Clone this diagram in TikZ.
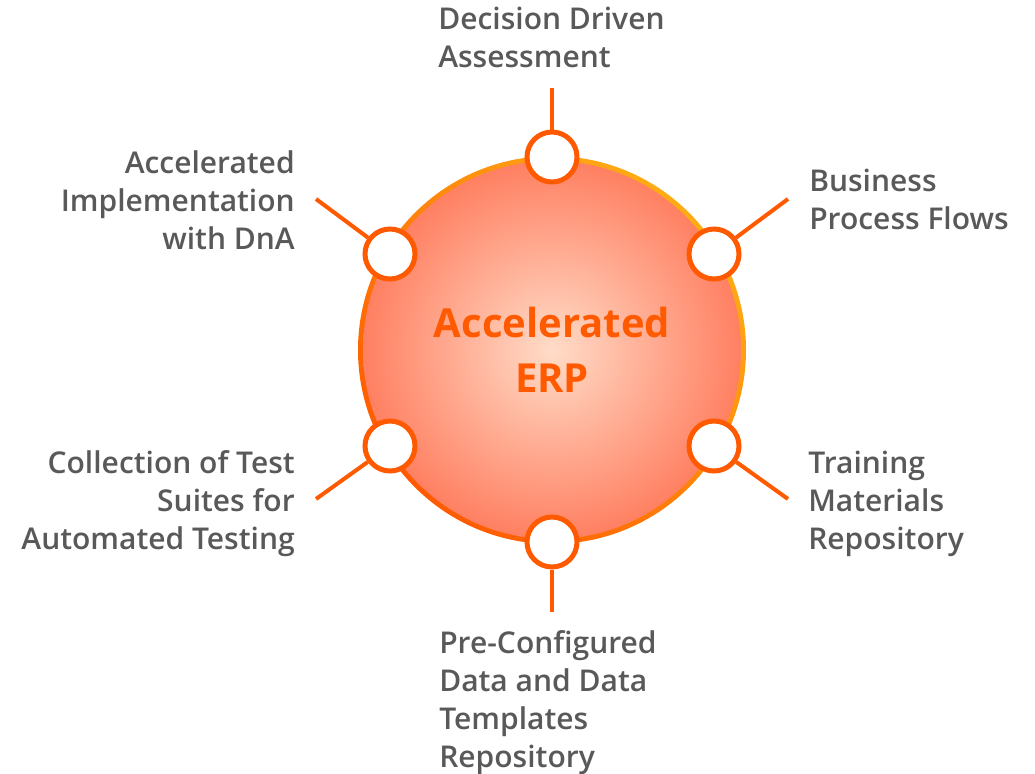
\documentclass[tikz,border=0pt]{standalone}
\usepackage{fontspec}
\setmainfont{Open Sans}[BoldFont={* Bold}]
\newfontfamily\labelfont{Open Sans Semibold}
\definecolor{erporange}{RGB}{255,90,0}
\definecolor{ringyellow}{RGB}{255,172,20}
\definecolor{labelgray}{RGB}{89,89,89}
\definecolor{peachin}{RGB}{255,220,200}
\definecolor{peachout}{RGB}{255,128,98}

\begin{document}
\begin{tikzpicture}[x=0.75pt,y=-0.75pt,
    spoke/.style={draw=erporange, line width=3pt},
    dot/.style={circle, draw=erporange, fill=white, line width=3.75pt,
      minimum size=50*0.75pt, inner sep=0pt},
    label/.style={text=labelgray, inner sep=0pt,
      font=\labelfont\fontsize{22.5}{28.5}\selectfont}]
    \useasboundingbox (0,0) rectangle (1035,774);

    % ring and body of the big circle
    \shade[left color=ringyellow, right color=erporange, shading angle=-45]
      (552,350) circle (194);
    \shade[inner color=peachin, outer color=peachout] (552,350) circle (189);
    \node[text=erporange, align=center, anchor=base,
      font=\bfseries\fontsize{30}{41.25}\selectfont] (erp) at (552,392)
      {Accelerated\\ERP};

    % free ends of the spokes
    \coordinate (end1) at (552,88);
    \coordinate (end2) at (788,199);
    \coordinate (end3) at (788,499);
    \coordinate (end4) at (552,612);
    \coordinate (end5) at (316,499);
    \coordinate (end6) at (316,199);

    % small circles
    \node[dot] (dot1) at (552,157) {};
    \node[dot] (dot2) at (714,254) {};
    \node[dot] (dot3) at (714,446) {};
    \node[dot] (dot4) at (552,542) {};
    \node[dot] (dot5) at (390,446) {};
    \node[dot] (dot6) at (390,254) {};

    % spokes
    \foreach \i in {1,...,6}
      \draw[spoke] (dot\i) -- (end\i);

    % labels (placed by the baseline of their last line)
    \node[label, align=left, anchor=base west] (lab1) at (438,68)
      {Decision Driven\\Assessment};
    \node[label, align=left, anchor=base west] (lab2) at (809,229)
      {Business\\Process Flows};
    \node[label, align=left, anchor=base west] (lab3) at (808,549)
      {Training\\Materials\\Repository};
    \node[label, align=left, anchor=base west] (lab4) at (439,767)
      {Pre-Configured\\Data and Data\\Templates\\Repository};
    \node[label, align=right, anchor=base east] (lab5) at (295,549)
      {Collection of Test\\Suites for\\Automated Testing};
    \node[label, align=right, anchor=base east] (lab6) at (295,249)
      {Accelerated\\Implementation\\with DnA};
\end{tikzpicture}
\end{document}
